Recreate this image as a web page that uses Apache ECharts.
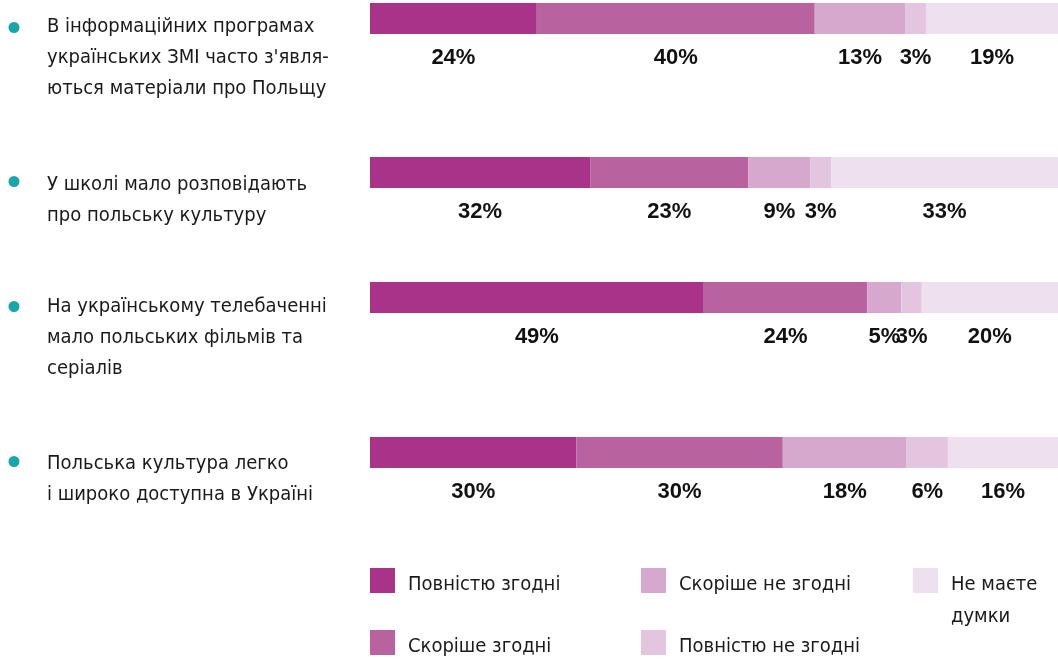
<!DOCTYPE html>
<html><head><meta charset="utf-8">
<script src="https://cdn.jsdelivr.net/npm/echarts@6/dist/echarts.min.js"></script>
<style>html,body{margin:0;padding:0;background:#fff}#c{width:1058px;height:659px}</style>
</head><body><div id="c"></div>
<script>
const categories = [
  'В інформаційних програмах\nукраїнських ЗМІ часто з\'явля-\nються матеріали про Польщу',
  'У школі мало розповідають\nпро польську культуру',
  'На українському телебаченні\nмало польських фільмів та\nсеріалів',
  'Польська культура легко\nі широко доступна в Україні'
];
const seriesNames = ['Повністю згодні', 'Скоріше згодні', 'Скоріше не згодні', 'Повністю не згодні', 'Не маєте думки'];
const fullyAgree   = [24, 32, 49, 30];
const ratherAgree  = [40, 23, 24, 30];
const ratherNot    = [13, 9, 5, 18];
const fullyNot     = [3, 3, 3, 6];
const noOpinion    = [19, 33, 20, 16];

const values = [fullyAgree, ratherAgree, ratherNot, fullyNot, noOpinion];
const colors = ['#A83388', '#B862A0', '#D6A8CE', '#E3C5E0', '#EFE0F0'];
const gridTops = [3, 157, 282, 437];
const FONT = "'Liberation Sans Narrow', 'DejaVu Sans Condensed', Roboto, sans-serif";
const FS = 20;

const chart = echarts.init(document.getElementById('c'), null, {renderer: 'canvas'});
const grids = [], xAxes = [], yAxes = [], series = [];
categories.forEach((cat, i) => {
  grids.push({left: 370, right: 0, top: gridTops[i], height: 31});
  xAxes.push({type: 'value', gridIndex: i, min: 0, max: 100, show: false});
  yAxes.push({type: 'category', gridIndex: i, data: [cat], show: false});
  const total = values.reduce((s, arr) => s + arr[i], 0);
  values.forEach((arr, k) => {
    series.push({
      type: 'bar', name: seriesNames[k], xAxisIndex: i, yAxisIndex: i, stack: 'row' + i,
      barWidth: 31, itemStyle: {color: colors[k]},
      data: [{value: arr[i] / total * 100, raw: arr[i]}],
      label: {show: true, position: 'bottom', distance: 13, color: '#111',
        fontFamily: "'Liberation Sans', Arial, sans-serif", fontWeight: 'bold', fontSize: 22,
        formatter: p => p.data.raw + '%'},
      silent: true
    });
  });
});

// square icon in the upper part of a taller item box, so the text sits slightly lower
const ICON = 'path://M0,0L25,0L25,25L0,25Z M0,34L0.01,34L0,34Z';
const legendText = {color: '#1a1a1a', fontFamily: FONT, fontSize: FS, padding: [0, 0, 0, 8]};
const legendBase = {orient: 'vertical', padding: 0, itemWidth: 25, itemHeight: 34, itemGap: 28,
  icon: ICON, selectedMode: false};
chart.setOption({
  animation: false,
  grid: grids, xAxis: xAxes, yAxis: yAxes, series: series,
  legend: [
    Object.assign({}, legendBase, {left: 370, top: 568, height: 110, textStyle: legendText, data: [seriesNames[0], seriesNames[1]]}),
    Object.assign({}, legendBase, {left: 641, top: 568, height: 110, textStyle: legendText, data: [seriesNames[2], seriesNames[3]]}),
    Object.assign({}, legendBase, {left: 913, top: 537, data: [seriesNames[4]],
      textStyle: {color: '#1a1a1a', fontFamily: FONT, fontSize: FS, lineHeight: 32, padding: [0, 0, 0, 8]},
      formatter: n => ' \n' + n.replace(' думки', '\nдумки')})
  ]
});

const graphics = [];
const textShift = [-2.5, 1.5, -1.5, 0];
categories.forEach((cat, i) => {
  const yc = chart.convertToPixel({yAxisIndex: i}, cat);
  graphics.push({type: 'circle', shape: {cx: 14, cy: yc + 9, r: 5.5}, style: {fill: '#17A6AB'}, silent: true});
  graphics.push({type: 'text', x: 47, y: yc + 11 - 15.5 + textShift[i],
    style: {text: cat, fill: '#1a1a1a', font: FS + 'px ' + FONT, lineHeight: 31, verticalAlign: 'top', align: 'left'},
    silent: true});
});
chart.setOption({graphic: graphics});
</script></body></html>
